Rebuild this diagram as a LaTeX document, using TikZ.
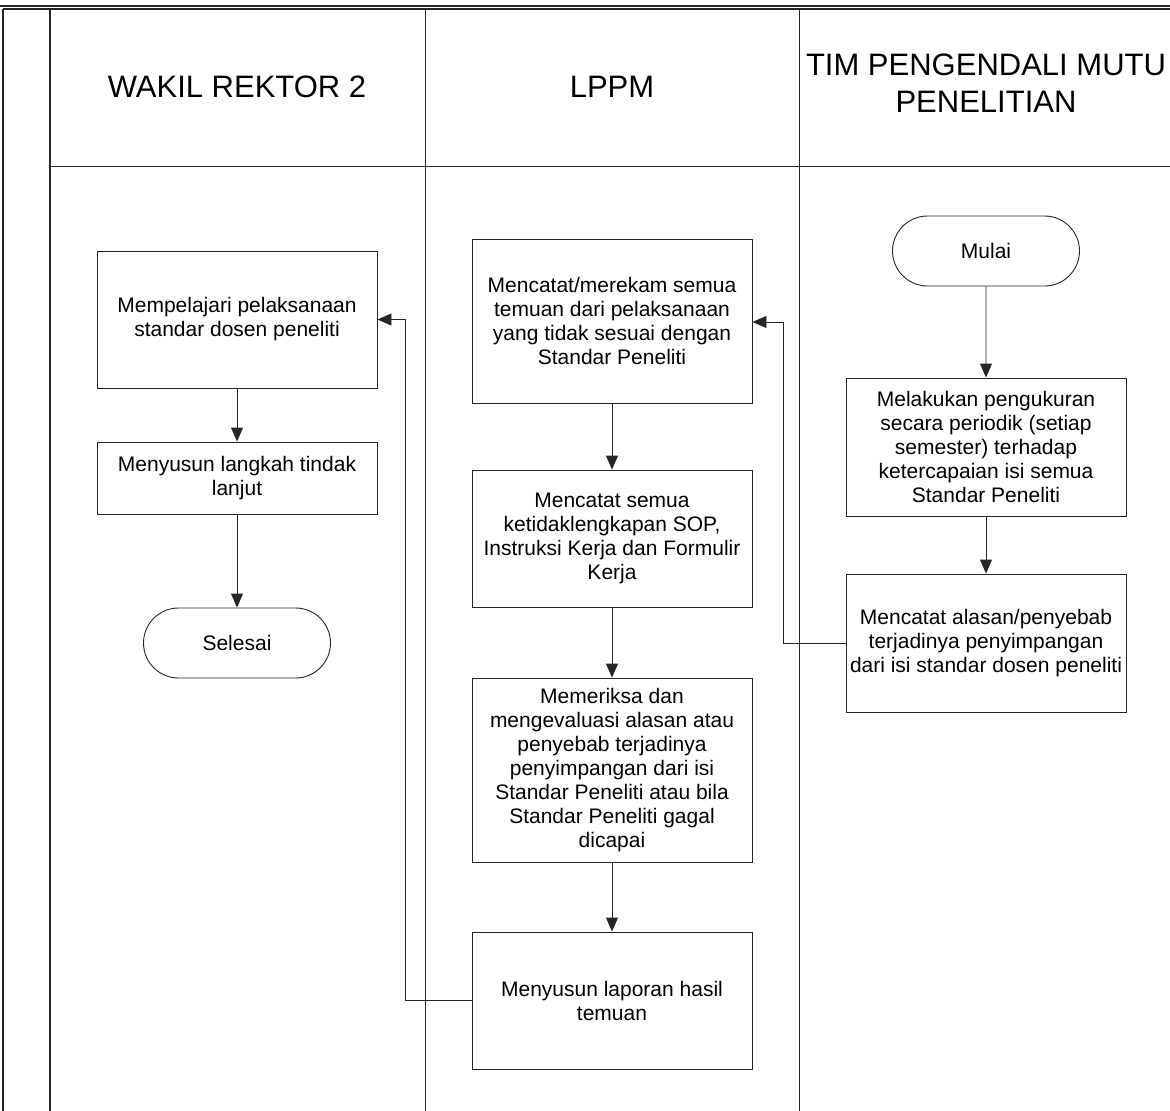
\documentclass[tikz,border=0pt]{standalone}
\usepackage{fontspec}
\setmainfont{Liberation Sans}
\usetikzlibrary{arrows.meta,shapes.misc}
\begin{document}
\begin{tikzpicture}[x=1pt,y=-1pt,
  frame/.style={line width=1.3pt,draw=black!85},
  lane/.style={line width=1pt,draw=black!85},
  procbox/.style={draw=black!85,line width=0.9pt,rectangle,minimum width=280pt,align=center,
     font=\fontsize{21pt}{24pt}\selectfont,inner sep=0pt},
  term/.style={draw=black!85,line width=0.9pt,rounded rectangle,minimum width=187pt,minimum height=70pt,
     font=\fontsize{21pt}{24pt}\selectfont,inner sep=0pt},
  hdr/.style={align=center,font=\fontsize{31pt}{37pt}\selectfont,inner sep=0pt},
  flow/.style={draw=black!85,line width=0.9pt,-{Triangle[length=14pt,width=12pt]}}]
\useasboundingbox (0,0) rectangle (1170,1111);
% frame
\draw[frame] (0,6) -- (1170,6);
\draw[frame] (3,9) -- (1170,9);
\draw[frame] (3,9) -- (3,1111);
\draw[frame] (50,9) -- (50,1111);
\draw[lane] (50,166) -- (1170,166);
\draw[lane] (425,9) -- (425,1111);
\draw[lane] (799,9) -- (799,1111);
% headers
\node[hdr] (h1) at (237,87) {WAKIL REKTOR 2};
\node[hdr] (h2) at (612,87) {LPPM};
\node[hdr] (h3) at (986,83) {TIM PENGENDALI MUTU\\PENELITIAN};
% WR2
\node[procbox,minimum height=137pt] (w1) at (237,319.5) {Mempelajari pelaksanaan\\standar dosen peneliti};
\node[procbox,minimum height=72pt] (w2) at (237,478) {Menyusun langkah tindak\\lanjut};
\node[term] (sel) at (237,643) {Selesai};
% LPPM
\node[procbox,minimum height=164pt] (l1) at (612,321) {Mencatat/merekam semua\\temuan dari pelaksanaan\\yang tidak sesuai dengan\\Standar Peneliti};
\node[procbox,minimum height=137pt] (l2) at (612,538.5) {Mencatat semua\\ketidaklengkapan SOP,\\Instruksi Kerja dan Formulir\\Kerja};
\node[procbox,minimum height=184pt] (l3) at (612,770) {Memeriksa dan\\mengevaluasi alasan atau\\penyebab terjadinya\\penyimpangan dari isi\\Standar Peneliti atau bila\\Standar Peneliti gagal\\dicapai};
\node[procbox,minimum height=137pt] (l4) at (612,1000.5) {Menyusun laporan hasil\\temuan};
% TIM
\node[term] (mul) at (986,251) {Mulai};
\node[procbox,minimum height=138pt] (t1) at (986,447) {Melakukan pengukuran\\secara periodik (setiap\\semester) terhadap\\ketercapaian isi semua\\Standar Peneliti};
\node[procbox,minimum height=138pt] (t2) at (986,643) {Mencatat alasan/penyebab\\terjadinya penyimpangan\\dari isi standar dosen peneliti};
% connectors
\draw[flow] (mul) -- (t1);
\draw[flow] (t1) -- (t2);
\draw[flow] (t2.west) -- (783,643) |- ([yshift=-1pt]l1.east);
\draw[flow] (l1) -- (l2);
\draw[flow] (l2) -- (l3);
\draw[flow] (l3) -- (l4);
\draw[flow] (l4.west) -- (405,1000.5) |- (w1.east);
\draw[flow] (w1) -- (w2);
\draw[flow] (w2) -- (sel);
\end{tikzpicture}
\end{document}
